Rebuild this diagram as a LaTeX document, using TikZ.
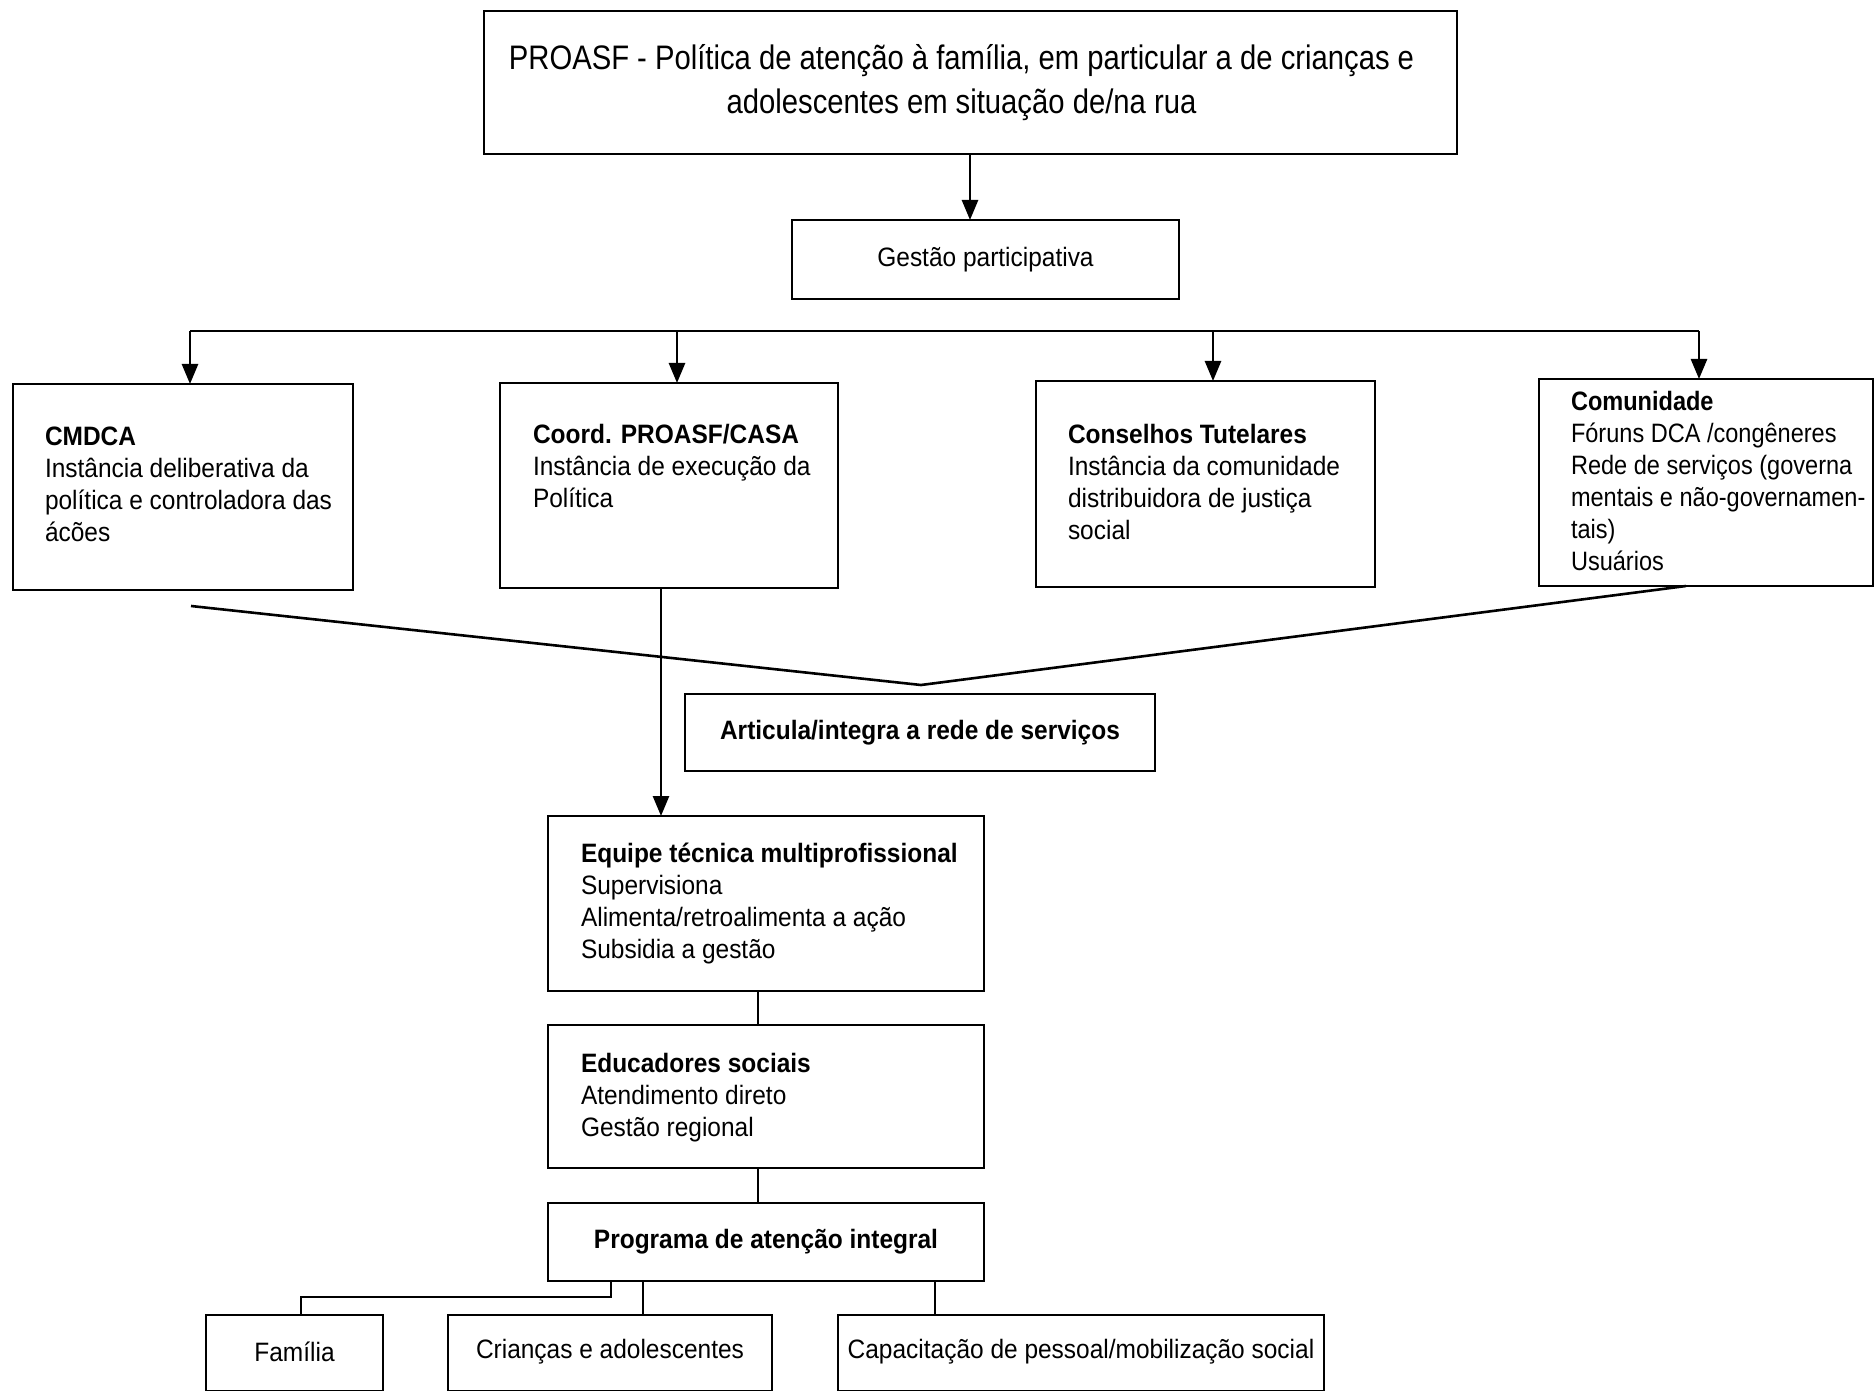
\documentclass[tikz,border=0pt]{standalone}
\usepackage{fontspec}
\setmainfont[FakeStretch=0.92]{Liberation Sans}
\newfontfamily\topfam[FakeStretch=0.86]{Liberation Sans}
\newfontfamily\comfam[FakeStretch=0.885]{Liberation Sans}
\usetikzlibrary{arrows.meta,calc}
\newcommand{\bodyfont}{\fontsize{13.3}{16}\selectfont}
\newcommand{\bigfont}{\topfam\fontsize{17}{22}\selectfont}
\begin{document}
\begin{tikzpicture}[x=0.5pt,y=-0.5pt,
  boxst/.style={draw, line width=1.3pt, inner sep=0pt, outer sep=0pt, anchor=north west},
  body/.style={inner sep=0pt, outer sep=0pt, anchor=north west, align=left, font=\bodyfont},
  ctext/.style={inner sep=0pt, outer sep=0pt, align=center, font=\bodyfont},
  arr/.style={-{Triangle[length=10pt,width=8pt]}, line width=1.3pt},
  ln/.style={line width=1.3pt}]
\useasboundingbox (0,0) rectangle (1875,1391);
\fill[white] (0,0) rectangle (1875,1391);

% boxes
\node[boxst, minimum width=486.5pt, minimum height=71.5pt] (top) at (484,11) {};
\node[boxst, minimum width=193.5pt, minimum height=39.5pt] (gest) at (792,220) {};
\node[boxst, minimum width=170pt, minimum height=103pt] (cmdca) at (13,384) {};
\node[boxst, minimum width=169pt, minimum height=102.5pt] (coord) at (500,383) {};
\node[boxst, minimum width=169.5pt, minimum height=103pt] (cons) at (1036,381) {};
\node[boxst, minimum width=167pt, minimum height=103.5pt] (com) at (1539,379) {};
\node[boxst, minimum width=235pt, minimum height=38.5pt] (art) at (685,694) {};
\node[boxst, minimum width=218pt, minimum height=87.5pt] (equ) at (548,816) {};
\node[boxst, minimum width=218pt, minimum height=71.5pt] (edu) at (548,1025) {};
\node[boxst, minimum width=218pt, minimum height=39pt] (prog) at (548,1203) {};
\node[boxst, minimum width=88.5pt, minimum height=38pt] (fam) at (206,1315) {};
\node[boxst, minimum width=162pt, minimum height=38pt] (cri) at (448,1315) {};
\node[boxst, minimum width=243pt, minimum height=38pt] (cap) at (838,1315) {};

% texts
\node[ctext, font=\bigfont] (topT) at ($(top.center)+(-9,0)$)
  {PROASF - Política de atenção à família, em particular a de crianças e\\
   adolescentes em situação de/na rua};
\node[ctext] (gestT) at (gest.center) {Gestão participativa};
\node[body] (cmdcaT) at ($(cmdca.north west)+(32,39)$)
  {\strut\textbf{CMDCA}\\Instância deliberativa da\\política e controladora das\\ácões};
\node[body] (coordT) at ($(coord.north west)+(33,38)$)
  {\strut\textbf{Coord. PROASF/CASA}\\Instância de execução da\\Política};
\node[body] (consT) at ($(cons.north west)+(32,40)$)
  {\strut\textbf{Conselhos Tutelares}\\Instância da comunidade\\distribuidora de justiça\\social};
\node[body, font=\comfam\bodyfont] (comT) at ($(com.north west)+(32,9)$)
  {\strut\textbf{Comunidade}\\Fóruns DCA /congêneres\\Rede de serviços (governa\\mentais e não-governamen-\\tais)\\Usuários};
\node[ctext, font=\bodyfont\bfseries] (artT) at (art.center) {Articula/integra a rede de serviços};
\node[body] (equT) at ($(equ.north west)+(33,24)$)
  {\strut\textbf{Equipe técnica multiprofissional}\\Supervisiona\\Alimenta/retroalimenta a ação\\Subsidia a gestão};
\node[body] (eduT) at ($(edu.north west)+(33,25)$)
  {\strut\textbf{Educadores sociais}\\Atendimento direto\\Gestão regional};
\node[ctext, font=\bodyfont\bfseries] (progT) at (prog.center) {Programa de atenção integral};
\node[ctext] (famT) at ($(fam.center)+(0,-1)$) {Família};
\node[ctext] (criT) at ($(cri.center)+(0,-1)$) {Crianças e adolescentes};
\node[ctext] (capT) at ($(cap.center)+(0,-1)$) {Capacitação de pessoal/mobilização social};

% connector coordinates
\coordinate (gx) at (970,0);
\coordinate (busL) at (190,331);
\coordinate (busR) at (1699,331);
\coordinate (b2) at (677,331);
\coordinate (b3) at (1213,331);
\coordinate (vL) at (191,606);
\coordinate (vM) at (921,685);
\coordinate (vR) at (1686,0);
\coordinate (cx) at (661,0);
\coordinate (ex) at (758,0);
\coordinate (pf1) at (611,1297);
\coordinate (pf2) at (301,1297);
\coordinate (crx) at (643,0);
\coordinate (cpx) at (935,0);

% connectors
\draw[arr] (top.south -| gx) -- (gest.north -| gx);
\draw[ln] (busL) -- (busR);
\draw[arr] (busL) -- (cmdca.north -| busL);
\draw[arr] (b2) -- (coord.north -| b2);
\draw[arr] (b3) -- (cons.north -| b3);
\draw[arr] (busR) -- (com.north -| busR);
\draw[ln] (vL) -- (vM) -- (com.south -| vR);
\draw[arr] (coord.south -| cx) -- (equ.north -| cx);
\draw[ln] (equ.south -| ex) -- (edu.north -| ex);
\draw[ln] (edu.south -| ex) -- (prog.north -| ex);
\draw[ln] (prog.south -| pf1) -- (pf1) -- (pf2) -- (fam.north -| pf2);
\draw[ln] (prog.south -| crx) -- (cri.north -| crx);
\draw[ln] (prog.south -| cpx) -- (cap.north -| cpx);
\end{tikzpicture}
\end{document}
